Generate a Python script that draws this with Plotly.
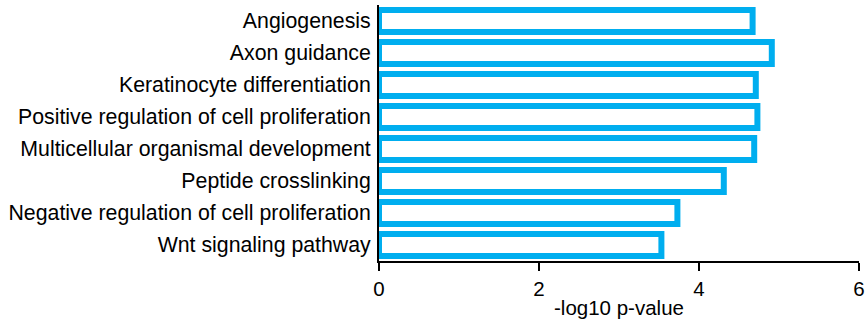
import plotly.graph_objects as go

categories = [
    "Angiogenesis",
    "Axon guidance",
    "Keratinocyte differentiation",
    "Positive regulation of cell proliferation",
    "Multicellular organismal development",
    "Peptide crosslinking",
    "Negative regulation of cell proliferation",
    "Wnt signaling pathway",
]
values = [4.67, 4.91, 4.71, 4.73, 4.69, 4.31, 3.73, 3.53]
x_ticks = [0, 2, 4, 6]

fig = go.Figure(go.Bar(
    y=categories, x=values, orientation="h",
    width=0.68,
    marker=dict(color="white", line=dict(color="#00AEEF", width=6)),
))

font = dict(family="Liberation Sans, Arial, sans-serif", size=18, color="black")
fig.update_layout(
    width=866, height=323,
    margin=dict(l=379, r=7, t=5, b=62),
    plot_bgcolor="white", paper_bgcolor="white",
    font=font, showlegend=False,
    bargap=0.3,
)
fig.update_xaxes(
    range=[0, 6], tickvals=x_ticks, ticks="outside", ticklen=8, tickwidth=2,
    tickcolor="black", showline=True, linecolor="black", linewidth=2,
    showgrid=False, zeroline=False, automargin=False,
    tickfont=dict(size=20.5),
    title=dict(text="-log10 p-value", standoff=2, font=dict(size=20.5)),
)
fig.update_yaxes(
    categoryorder="array", categoryarray=categories, autorange="reversed",
    showline=True, linecolor="black", linewidth=2, showgrid=False,
    ticks="", ticklabelstandoff=2, automargin=False,
    tickfont=dict(size=21.3),
)
fig.write_html(
    "out.html",
    config={"displayModeBar": False},
    post_script="document.body.style.margin='0';document.body.style.overflow='hidden';",
)
